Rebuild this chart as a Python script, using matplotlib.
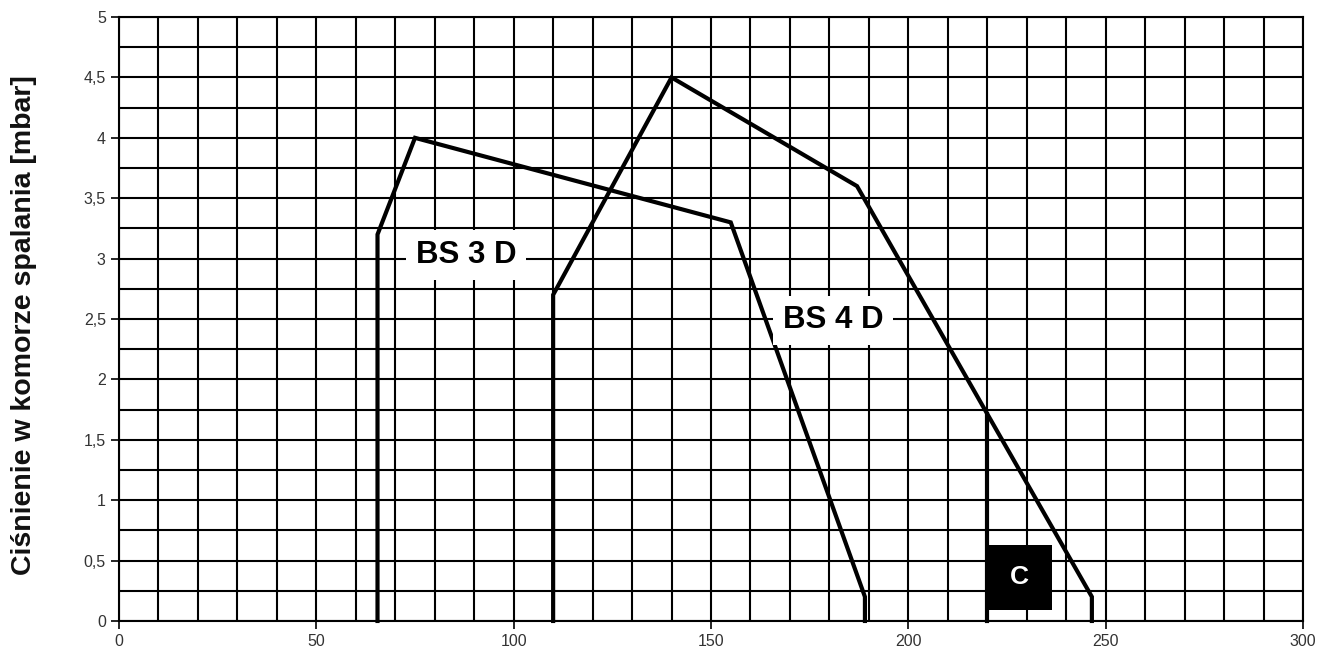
import matplotlib.pyplot as plt
from matplotlib.patches import Rectangle
from matplotlib.ticker import MultipleLocator, FuncFormatter

plt.rcParams["font.family"] = ["Liberation Sans", "DejaVu Sans"]

# curve outlines (flow vs. combustion chamber pressure)
bs3_x = [65.5, 65.5, 75, 155, 189, 189]
bs3_y = [0.0, 3.2, 4.0, 3.3, 0.2, 0.0]

bs4_x = [110, 110, 140, 187, 246.5, 246.5]
bs4_y = [0.0, 2.7, 4.5, 3.6, 0.2, 0.0]

c_x = [220, 220]
c_y = [0.0, 1.71]

# "C" marker box: x range, y range
c_box_x = [220, 236.5]
c_box_y = [0.09, 0.63]

labels = ["BS 3 D", "BS 4 D"]
label_pos = [(88, 3.03), (181, 2.49)]

fig = plt.figure(figsize=(13.28, 6.56), dpi=100)
ax = fig.add_axes([0.0896, 0.0534, 0.8916, 0.9206])

ax.set_xlim(0, 300)
ax.set_ylim(0, 5)
ax.xaxis.set_major_locator(MultipleLocator(50))
ax.xaxis.set_minor_locator(MultipleLocator(10))
ax.yaxis.set_major_locator(MultipleLocator(0.5))
ax.yaxis.set_minor_locator(MultipleLocator(0.25))
ax.yaxis.set_major_formatter(FuncFormatter(lambda v, p: f"{v:g}".replace(".", ",")))

ax.grid(which="both", color="black", linewidth=1.5)
ax.set_axisbelow(True)
ax.tick_params(which="major", direction="out", length=6, width=1.2,
               labelsize=11.5, labelcolor="#333333")
ax.tick_params(which="minor", length=0)
for s in ax.spines.values():
    s.set_color("black")
    s.set_linewidth(1.5)

for xs, ys in [(bs3_x, bs3_y), (bs4_x, bs4_y), (c_x, c_y)]:
    ax.plot(xs, ys, color="black", linewidth=3.0, solid_joinstyle="miter",
            clip_on=False, zorder=3)

for txt, (lx, ly) in zip(labels, label_pos):
    ax.text(lx, ly, txt, fontsize=22.5, fontweight="bold", ha="center", va="center",
            zorder=4, bbox=dict(facecolor="white", edgecolor="none", pad=7))

ax.add_patch(Rectangle((c_box_x[0], c_box_y[0]), c_box_x[1] - c_box_x[0],
                       c_box_y[1] - c_box_y[0], facecolor="black",
                       edgecolor="none", zorder=5))
ax.text(sum(c_box_x) / 2, sum(c_box_y) / 2, "C", fontsize=19, fontweight="bold",
        color="white", ha="center", va="center", zorder=6)

ax.set_ylabel("Ciśnienie w komorze spalania [mbar]", fontsize=20.5,
              fontweight="bold", color="#111111")
ax.yaxis.set_label_coords(-0.069, 0.49)

fig.savefig("out.png", dpi=100)
